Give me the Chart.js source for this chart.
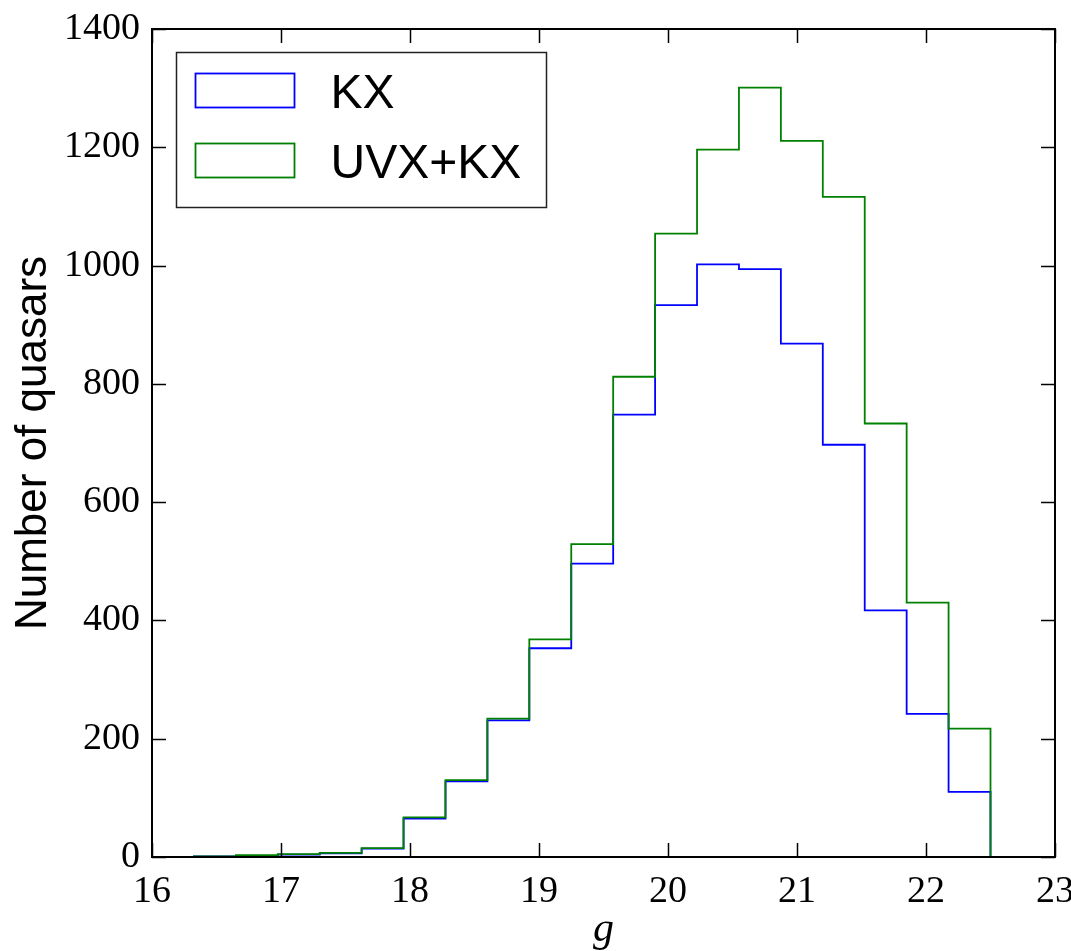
<!DOCTYPE html>
<html>
<head>
    <meta charset="utf-8" />
    <script src="https://cdn.jsdelivr.net/npm/chart.js"></script>
    <style>
        html, body { margin: 0; padding: 0; background: white; }
        #wrap { width: 1071px; height: 951px; }
    </style>
</head>
<body>
    <div id="wrap"><canvas id="histChart"></canvas></div>

    <script>
        // bin edges in g (20 bins of 0.325 mag)
        const binEdges = [16, 16.325, 16.65, 16.975, 17.3, 17.625, 17.95, 18.275, 18.6, 18.925,
                          19.25, 19.575, 19.9, 20.225, 20.55, 20.875, 21.2, 21.525, 21.85, 22.175, 22.5];
        // counts per bin
        const kxCounts    = [0, 1, 2, 4, 6, 14, 65, 128, 231, 353, 496, 748, 933, 1002, 994, 868, 697, 417, 242, 110];
        const uvxKxCounts = [0, 1, 3, 5, 7, 15, 67, 130, 234, 368, 529, 812, 1054, 1196, 1301, 1211, 1116, 733, 430, 217];
        const seriesNames = ['KX', 'UVX+KX'];
        const xTicks = [16, 17, 18, 19, 20, 21, 22, 23];
        const yTicks = [0, 200, 400, 600, 800, 1000, 1200, 1400];

        const serif = "'Liberation Serif', 'DejaVu Serif', serif";
        const sans = "'Liberation Sans', Arial, sans-serif";

        // step outline: one point per left edge, then drop to zero at the last edge
        function stepPoints(counts) {
            return binEdges.map((e, i) => ({ x: e, y: i < counts.length ? counts[i] : 0 }));
        }

        // frame, inward ticks on all sides, and the boxed legend inside the axes
        const framePlugin = {
            id: 'frame',
            afterDatasetsDraw(chart) {
                const { ctx, chartArea: a, scales: { x, y } } = chart;
                const tick = 14;
                ctx.save();
                ctx.strokeStyle = '#000';
                ctx.lineWidth = 1.5;
                ctx.beginPath();
                xTicks.forEach(v => {
                    const px = Math.round(x.getPixelForValue(v)) + 0.5;
                    ctx.moveTo(px, a.bottom); ctx.lineTo(px, a.bottom - tick);
                    ctx.moveTo(px, a.top); ctx.lineTo(px, a.top + tick);
                });
                yTicks.forEach(v => {
                    const py = Math.round(y.getPixelForValue(v)) + 0.5;
                    ctx.moveTo(a.left, py); ctx.lineTo(a.left + tick, py);
                    ctx.moveTo(a.right, py); ctx.lineTo(a.right - tick, py);
                });
                ctx.stroke();
                ctx.lineWidth = 2;
                ctx.strokeRect(a.left, a.top, a.right - a.left, a.bottom - a.top);

                // legend
                const lx = a.left + 24.5, ly = a.top + 23.5;
                ctx.lineWidth = 1.5;
                ctx.strokeStyle = '#222';
                ctx.strokeRect(lx, ly, 370, 155);
                const sets = [chart.data.datasets[1], chart.data.datasets[0]];
                ctx.font = '48px ' + sans;
                ctx.fillStyle = '#000';
                ctx.textBaseline = 'alphabetic';
                sets.forEach((ds, i) => {
                    const top = ly + 21 + i * 70;
                    ctx.strokeStyle = ds.borderColor;
                    ctx.lineWidth = 1.8;
                    ctx.strokeRect(lx + 19, top, 99, 34);
                    ctx.fillText(ds.label, lx + 154, top + 34);
                });
                ctx.restore();
            }
        };

        new Chart(document.getElementById('histChart'), {
            type: 'line',
            data: {
                datasets: [
                    {
                        label: seriesNames[1],
                        data: stepPoints(uvxKxCounts),
                        borderColor: '#008000',
                        borderWidth: 1.8,
                        stepped: true,
                        pointRadius: 0,
                        fill: false
                    },
                    {
                        label: seriesNames[0],
                        data: stepPoints(kxCounts),
                        borderColor: '#0000ff',
                        borderWidth: 1.8,
                        stepped: true,
                        pointRadius: 0,
                        fill: false
                    }
                ]
            },
            options: {
                responsive: true,
                maintainAspectRatio: false,
                animation: false,
                layout: { padding: { top: 29, right: 16, left: 0, bottom: 0 } },
                plugins: {
                    legend: { display: false },
                    tooltip: { enabled: false }
                },
                scales: {
                    x: {
                        type: 'linear',
                        min: 16,
                        max: 23,
                        grid: { display: false },
                        border: { display: false },
                        afterBuildTicks: s => { s.ticks = xTicks.map(v => ({ value: v })); },
                        afterFit: s => { s.height = 94; s.paddingLeft = 0; s.paddingRight = 0; },
                        ticks: {
                            color: '#000',
                            padding: 4,
                            maxRotation: 0,
                            callback: v => String(v),
                            font: { family: serif, size: 38 }
                        },
                        title: {
                            display: true,
                            text: 'g',
                            color: '#000',
                            padding: { top: 0, bottom: 0 },
                            font: { family: serif, size: 42, style: 'italic', lineHeight: 1 }
                        }
                    },
                    y: {
                        min: 0,
                        max: 1400,
                        grid: { display: false },
                        border: { display: false },
                        afterBuildTicks: s => { s.ticks = yTicks.map(v => ({ value: v })); },
                        afterFit: s => { s.width = 152; s.paddingTop = 0; s.paddingBottom = 0; },
                        ticks: {
                            color: '#000',
                            padding: 4,
                            callback: v => String(v),
                            font: { family: serif, size: 38 }
                        },
                        title: {
                            display: true,
                            text: 'Number of quasars',
                            color: '#000',
                            padding: { top: 7, bottom: 0 },
                            font: { family: sans, size: 44 }
                        }
                    }
                }
            },
            plugins: [framePlugin]
        });
    </script>
</body>
</html>
